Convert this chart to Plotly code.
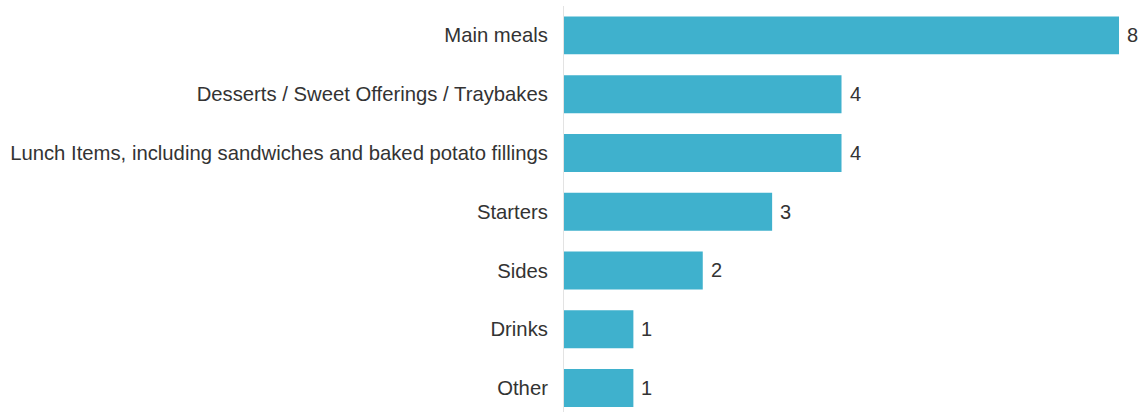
import plotly.graph_objects as go

categories = ["Main meals", "Desserts / Sweet Offerings / Traybakes",
              "Lunch Items, including sandwiches and baked potato fillings",
              "Starters", "Sides", "Drinks", "Other"]
values = [8, 4, 4, 3, 2, 1, 1]

cats = categories[::-1]
vals = values[::-1]

fig = go.Figure(go.Bar(
    x=vals, y=cats, orientation="h",
    marker=dict(color="#3fb1cd", line=dict(width=0)),
    hoverinfo="skip",
))

annotations = [dict(x=v, y=c, text=str(v), xref="x", yref="y", xanchor="left",
                    xshift=6, showarrow=False,
                    font=dict(family="Liberation Sans, Arial", size=20, color="#333333"))
               for c, v in zip(cats, vals)]

fig.update_layout(
    width=1144, height=412,
    margin=dict(l=564, r=0, t=6, b=0),
    paper_bgcolor="white", plot_bgcolor="white",
    bargap=0.354,
    showlegend=False,
    annotations=annotations,
    font=dict(family="Liberation Sans, Arial", size=20, color="#333333"),
    xaxis=dict(range=[0, 8.36], visible=False, showgrid=False, zeroline=False),
    yaxis=dict(range=[-0.408, 6.5], categoryorder="array", categoryarray=cats,
               showgrid=False, zeroline=False, showline=True, linecolor="#e3e3e3",
               linewidth=1, ticks="", ticklabelstandoff=11, automargin=False,
               tickfont=dict(size=20.3, color="#333333")),
)

fig.write_html("out.html")
